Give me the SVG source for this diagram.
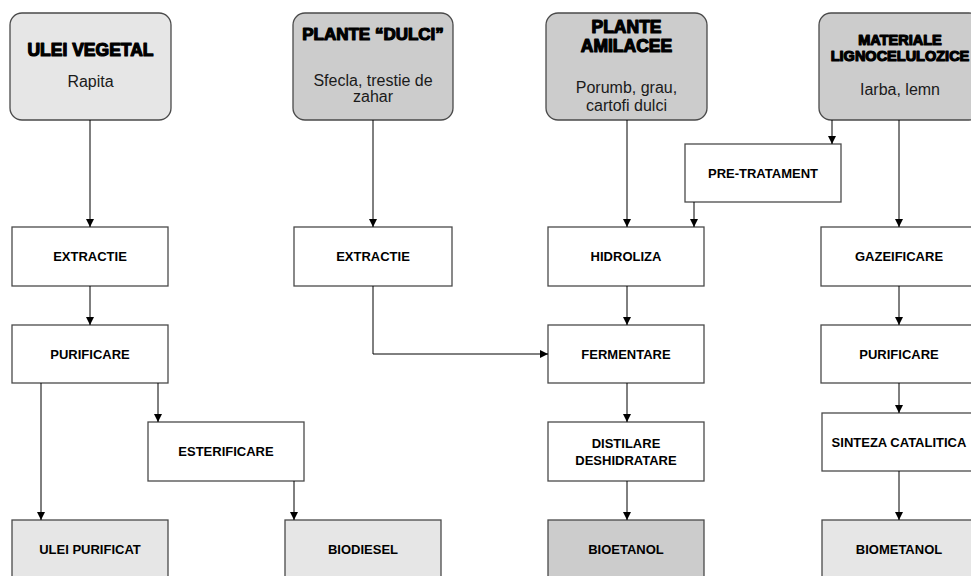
<svg xmlns="http://www.w3.org/2000/svg" width="971" height="576" viewBox="0 0 971 576">
  <style>
    .src { stroke: #4a4a4a; stroke-width: 1.3; }
    .light { fill: #e6e6e6; }
    .dark { fill: #cccccc; }
    .step { fill: #ffffff; stroke: #4a4a4a; stroke-width: 1.3; }
    .prod { stroke: #4a4a4a; stroke-width: 1.3; }
    .title { font-family: "Liberation Sans", Arial, sans-serif; font-weight: bold; fill: #000; stroke: #000; stroke-width: 1.2; stroke-linejoin: round; text-anchor: middle; }
    .sub { font-family: "Liberation Sans", Arial, sans-serif; font-size: 16px; fill: #1a1a1a; text-anchor: middle; }
    .lbl { font-family: "Liberation Sans", Arial, sans-serif; font-weight: bold; font-size: 13px; fill: #000; text-anchor: middle; }
    .conn { fill: none; stroke: #000; stroke-width: 1; }
  </style>
  <defs>
    <marker id="arrow" markerUnits="userSpaceOnUse" markerWidth="9" markerHeight="9" refX="8" refY="4" orient="auto">
      <path d="M0,0 L8,4 L0,8 z" fill="#000"/>
    </marker>
  </defs>
  <rect width="971" height="576" fill="#ffffff"/>

  <!-- raw materials -->
  <g id="ulei-vegetal">
    <rect class="src light" x="10" y="13" width="161" height="107" rx="12"/>
    <text class="title" x="90.5" y="55.5" font-size="17.5">ULEI VEGETAL</text>
    <text class="sub" x="90.5" y="87">Rapita</text>
  </g>
  <g id="plante-dulci">
    <rect class="src dark" x="293" y="13" width="160" height="107" rx="12"/>
    <text class="title" x="373" y="39.5" font-size="17">PLANTE “DULCI”</text>
    <text class="sub" x="373" y="86">Sfecla, trestie de</text>
    <text class="sub" x="373" y="102">zahar</text>
  </g>
  <g id="plante-amilacee">
    <rect class="src dark" x="546" y="13" width="161" height="107" rx="12"/>
    <text class="title" x="626.5" y="32.5" font-size="17.5">PLANTE</text>
    <text class="title" x="626.5" y="51.5" font-size="17.5">AMILACEE</text>
    <text class="sub" x="626.5" y="93">Porumb, grau,</text>
    <text class="sub" x="626.5" y="111">cartofi dulci</text>
  </g>
  <g id="materiale-lignocelulozice">
    <rect class="src dark" x="819" y="13" width="162" height="107" rx="12"/>
    <text class="title" x="900" y="44.5" font-size="14.5">MATERIALE</text>
    <text class="title" x="900" y="60.5" font-size="14.5">LIGNOCELULOZICE</text>
    <text class="sub" x="900" y="94.5">Iarba, lemn</text>
  </g>

  <!-- process steps -->
  <g id="pre-tratament">
    <rect class="step" x="685" y="144" width="156" height="58"/>
    <text class="lbl" x="763" y="177.5">PRE-TRATAMENT</text>
  </g>
  <g id="extractie-1">
    <rect class="step" x="12" y="227" width="156" height="59"/>
    <text class="lbl" x="90" y="261">EXTRACTIE</text>
  </g>
  <g id="extractie-2">
    <rect class="step" x="294" y="227" width="158" height="59"/>
    <text class="lbl" x="373" y="261">EXTRACTIE</text>
  </g>
  <g id="hidroliza">
    <rect class="step" x="548" y="227" width="156" height="59"/>
    <text class="lbl" x="626" y="261">HIDROLIZA</text>
  </g>
  <g id="gazeificare">
    <rect class="step" x="821" y="227" width="156" height="59"/>
    <text class="lbl" x="899" y="261">GAZEIFICARE</text>
  </g>
  <g id="purificare-1">
    <rect class="step" x="12" y="325" width="156" height="58"/>
    <text class="lbl" x="90" y="358.5">PURIFICARE</text>
  </g>
  <g id="fermentare">
    <rect class="step" x="548" y="325" width="156" height="58"/>
    <text class="lbl" x="626" y="358.5">FERMENTARE</text>
  </g>
  <g id="purificare-2">
    <rect class="step" x="821" y="325" width="156" height="58"/>
    <text class="lbl" x="899" y="358.5">PURIFICARE</text>
  </g>
  <g id="esterificare">
    <rect class="step" x="148" y="422" width="156" height="59"/>
    <text class="lbl" x="226" y="455.5">ESTERIFICARE</text>
  </g>
  <g id="distilare-deshidratare">
    <rect class="step" x="548" y="422" width="156" height="59"/>
    <text class="lbl" x="626" y="447.5">DISTILARE</text>
    <text class="lbl" x="626" y="464.5">DESHIDRATARE</text>
  </g>
  <g id="sinteza-catalitica">
    <rect class="step" x="822" y="413" width="156" height="58"/>
    <text class="lbl" x="899" y="446.5">SINTEZA CATALITICA</text>
  </g>

  <!-- products -->
  <g id="ulei-purificat">
    <rect class="prod light" x="12" y="520" width="156" height="60"/>
    <text class="lbl" x="90" y="553.5">ULEI PURIFICAT</text>
  </g>
  <g id="biodiesel">
    <rect class="prod light" x="285" y="520" width="156" height="60"/>
    <text class="lbl" x="363" y="553.5">BIODIESEL</text>
  </g>
  <g id="bioetanol">
    <rect class="prod dark" x="548" y="520" width="156" height="60"/>
    <text class="lbl" x="626" y="553.5">BIOETANOL</text>
  </g>
  <g id="biometanol">
    <rect class="prod light" x="822" y="520" width="156" height="60"/>
    <text class="lbl" x="899" y="553.5">BIOMETANOL</text>
  </g>

  <!-- connectors -->
  <g id="connectors" class="conn" marker-end="url(#arrow)">
    <path d="M90,120 V227"/>
    <path d="M90,286 V325"/>
    <path d="M41,383 V520"/>
    <path d="M158,383 V422"/>
    <path d="M294,481 V520"/>
    <path d="M373,120 V227"/>
    <path d="M373,286 V354 H548"/>
    <path d="M627,120 V227"/>
    <path d="M832,120 V144"/>
    <path d="M694,202 V227"/>
    <path d="M627,286 V325"/>
    <path d="M627,383 V422"/>
    <path d="M627,481 V520"/>
    <path d="M899,120 V227"/>
    <path d="M899,286 V325"/>
    <path d="M899,383 V413"/>
    <path d="M899,471 V520"/>
  </g>
</svg>
